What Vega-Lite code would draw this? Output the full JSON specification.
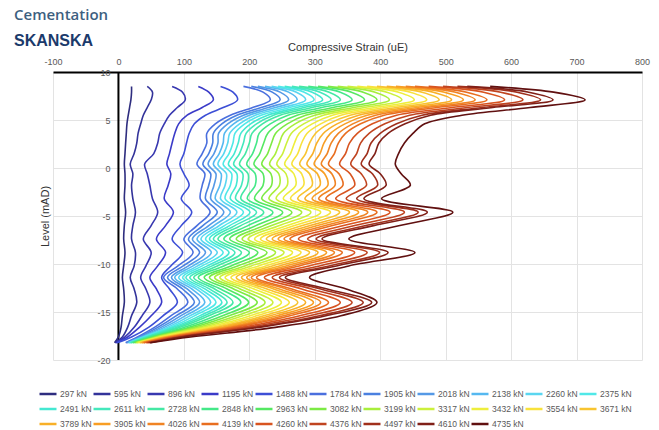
{
"$schema":"https://vega.github.io/schema/vega-lite/v6.json",
"width":589,"height":288,
"autosize":{"type":"none"},
"padding":{"left":53,"top":72,"right":17,"bottom":70},
"background":"white",
"config":{"font":"Liberation Sans","view":{"stroke":null}},
"title":{"text":"Cementation","subtitle":"SKANSKA","anchor":"start","frame":"group","dx":-39,"offset":-8,"fontSize":15,"font":"Open Sans","fontWeight":600,"color":"#3d5f80","subtitleFontSize":16,"subtitleFont":"Liberation Sans","subtitleFontWeight":"bold","subtitleColor":"#1b3a6b","subtitlePadding":10},
"layer":[
{"data":{"values":[{"x":0}]},"mark":{"type":"rule","color":"black","strokeWidth":2},"encoding":{"x":{"field":"x","type":"quantitative"}}},
{"data":{"values":[
{"k":297,"y":8.5,"x":20},{"k":297,"y":7.9,"x":20},{"k":297,"y":7.1,"x":19},{"k":297,"y":6.3,"x":17},{"k":297,"y":5.5,"x":15},{"k":297,"y":4.6,"x":13},{"k":297,"y":3.6,"x":12},{"k":297,"y":2.6,"x":11},{"k":297,"y":1.5,"x":10},{"k":297,"y":0.4,"x":9},{"k":297,"y":-0.6,"x":10},{"k":297,"y":-1.8,"x":10},{"k":297,"y":-3.2,"x":9},{"k":297,"y":-4.6,"x":11},{"k":297,"y":-6,"x":9},{"k":297,"y":-7.4,"x":8},{"k":297,"y":-8.8,"x":10},{"k":297,"y":-10.2,"x":8},{"k":297,"y":-11.4,"x":6},{"k":297,"y":-12.6,"x":8},{"k":297,"y":-14,"x":9},{"k":297,"y":-15.4,"x":6},{"k":297,"y":-16.6,"x":4},{"k":297,"y":-17.6,"x":0},{"k":297,"y":-18.2,"x":-6},
{"k":595,"y":8.5,"x":44},{"k":595,"y":7.9,"x":52},{"k":595,"y":7.1,"x":50},{"k":595,"y":6.3,"x":44},{"k":595,"y":5.5,"x":38},{"k":595,"y":4.6,"x":34},{"k":595,"y":3.6,"x":30},{"k":595,"y":2.6,"x":28},{"k":595,"y":1.5,"x":24},{"k":595,"y":0.4,"x":18},{"k":595,"y":-0.6,"x":22},{"k":595,"y":-1.8,"x":20},{"k":595,"y":-3.2,"x":22},{"k":595,"y":-4.6,"x":26},{"k":595,"y":-6,"x":22},{"k":595,"y":-7.4,"x":20},{"k":595,"y":-8.8,"x":26},{"k":595,"y":-10.2,"x":24},{"k":595,"y":-11.4,"x":18},{"k":595,"y":-12.6,"x":24},{"k":595,"y":-14,"x":28},{"k":595,"y":-15.4,"x":20},{"k":595,"y":-16.6,"x":14},{"k":595,"y":-17.6,"x":6},{"k":595,"y":-18.2,"x":-5},
{"k":896,"y":8.5,"x":82},{"k":896,"y":7.9,"x":98},{"k":896,"y":7.1,"x":102},{"k":896,"y":6.3,"x":90},{"k":896,"y":5.5,"x":78},{"k":896,"y":4.6,"x":70},{"k":896,"y":3.6,"x":63},{"k":896,"y":2.6,"x":60},{"k":896,"y":1.5,"x":54},{"k":896,"y":0.4,"x":40},{"k":896,"y":-0.6,"x":44},{"k":896,"y":-1.8,"x":48},{"k":896,"y":-3.2,"x":52},{"k":896,"y":-4.6,"x":60},{"k":896,"y":-6,"x":50},{"k":896,"y":-7.4,"x":38},{"k":896,"y":-8.8,"x":50},{"k":896,"y":-10.2,"x":42},{"k":896,"y":-11.4,"x":34},{"k":896,"y":-12.6,"x":42},{"k":896,"y":-14,"x":48},{"k":896,"y":-15.4,"x":36},{"k":896,"y":-16.6,"x":24},{"k":896,"y":-17.6,"x":10},{"k":896,"y":-18.2,"x":-4},
{"k":1195,"y":8.5,"x":122},{"k":1195,"y":7.9,"x":138},{"k":1195,"y":7.1,"x":145},{"k":1195,"y":6.3,"x":128},{"k":1195,"y":5.5,"x":105},{"k":1195,"y":4.6,"x":92},{"k":1195,"y":3.6,"x":86},{"k":1195,"y":2.6,"x":82},{"k":1195,"y":1.5,"x":78},{"k":1195,"y":0.4,"x":74},{"k":1195,"y":-0.6,"x":80},{"k":1195,"y":-1.8,"x":76},{"k":1195,"y":-3.2,"x":70},{"k":1195,"y":-4.6,"x":84},{"k":1195,"y":-6,"x":72},{"k":1195,"y":-7.4,"x":58},{"k":1195,"y":-8.8,"x":72},{"k":1195,"y":-10.2,"x":60},{"k":1195,"y":-11.4,"x":48},{"k":1195,"y":-12.6,"x":58},{"k":1195,"y":-14,"x":66},{"k":1195,"y":-15.4,"x":50},{"k":1195,"y":-16.6,"x":32},{"k":1195,"y":-17.6,"x":14},{"k":1195,"y":-18.2,"x":-3},
{"k":1488,"y":8.5,"x":156},{"k":1488,"y":7.9,"x":175},{"k":1488,"y":7.1,"x":182},{"k":1488,"y":6.3,"x":160},{"k":1488,"y":5.5,"x":133},{"k":1488,"y":4.6,"x":116},{"k":1488,"y":3.6,"x":108},{"k":1488,"y":2.6,"x":104},{"k":1488,"y":1.5,"x":100},{"k":1488,"y":0.4,"x":94},{"k":1488,"y":-0.6,"x":100},{"k":1488,"y":-1.8,"x":108},{"k":1488,"y":-3.2,"x":96},{"k":1488,"y":-4.6,"x":112},{"k":1488,"y":-6,"x":96},{"k":1488,"y":-7.4,"x":82},{"k":1488,"y":-8.8,"x":98},{"k":1488,"y":-10.2,"x":80},{"k":1488,"y":-11.4,"x":66},{"k":1488,"y":-12.6,"x":78},{"k":1488,"y":-14,"x":90},{"k":1488,"y":-15.4,"x":68},{"k":1488,"y":-16.6,"x":46},{"k":1488,"y":-17.6,"x":20},{"k":1488,"y":-18.2,"x":-2},
{"k":1784,"y":8.5,"x":191},{"k":1784,"y":7.9,"x":221},{"k":1784,"y":7.1,"x":232},{"k":1784,"y":6.3,"x":205},{"k":1784,"y":5.5,"x":171},{"k":1784,"y":4.6,"x":148},{"k":1784,"y":3.6,"x":135},{"k":1784,"y":2.6,"x":135},{"k":1784,"y":1.5,"x":128},{"k":1784,"y":0.4,"x":120},{"k":1784,"y":-0.6,"x":132},{"k":1784,"y":-1.8,"x":128},{"k":1784,"y":-3.2,"x":125},{"k":1784,"y":-4.6,"x":140},{"k":1784,"y":-6,"x":120},{"k":1784,"y":-7.4,"x":100},{"k":1784,"y":-8.8,"x":114},{"k":1784,"y":-10.2,"x":91},{"k":1784,"y":-11.4,"x":69},{"k":1784,"y":-12.6,"x":90},{"k":1784,"y":-14,"x":106},{"k":1784,"y":-15.4,"x":80},{"k":1784,"y":-16.6,"x":55},{"k":1784,"y":-17.6,"x":29},{"k":1784,"y":-18.2,"x":11},
{"k":1905,"y":8.5,"x":203},{"k":1905,"y":7.9,"x":235},{"k":1905,"y":7.1,"x":247},{"k":1905,"y":6.3,"x":218},{"k":1905,"y":5.5,"x":181},{"k":1905,"y":4.6,"x":158},{"k":1905,"y":3.6,"x":145},{"k":1905,"y":2.6,"x":144},{"k":1905,"y":1.5,"x":138},{"k":1905,"y":0.4,"x":129},{"k":1905,"y":-0.6,"x":141},{"k":1905,"y":-1.8,"x":138},{"k":1905,"y":-3.2,"x":133},{"k":1905,"y":-4.6,"x":151},{"k":1905,"y":-6,"x":129},{"k":1905,"y":-7.4,"x":107},{"k":1905,"y":-8.8,"x":124},{"k":1905,"y":-10.2,"x":99},{"k":1905,"y":-11.4,"x":75},{"k":1905,"y":-12.6,"x":98},{"k":1905,"y":-14,"x":116},{"k":1905,"y":-15.4,"x":88},{"k":1905,"y":-16.6,"x":60},{"k":1905,"y":-17.6,"x":32},{"k":1905,"y":-18.2,"x":12},
{"k":2018,"y":8.5,"x":213},{"k":2018,"y":7.9,"x":247},{"k":2018,"y":7.1,"x":260},{"k":2018,"y":6.3,"x":229},{"k":2018,"y":5.5,"x":191},{"k":2018,"y":4.6,"x":167},{"k":2018,"y":3.6,"x":153},{"k":2018,"y":2.6,"x":152},{"k":2018,"y":1.5,"x":146},{"k":2018,"y":0.4,"x":137},{"k":2018,"y":-0.6,"x":149},{"k":2018,"y":-1.8,"x":146},{"k":2018,"y":-3.2,"x":141},{"k":2018,"y":-4.6,"x":161},{"k":2018,"y":-6,"x":138},{"k":2018,"y":-7.4,"x":113},{"k":2018,"y":-8.8,"x":133},{"k":2018,"y":-10.2,"x":107},{"k":2018,"y":-11.4,"x":81},{"k":2018,"y":-12.6,"x":105},{"k":2018,"y":-14,"x":124},{"k":2018,"y":-15.4,"x":95},{"k":2018,"y":-16.6,"x":65},{"k":2018,"y":-17.6,"x":34},{"k":2018,"y":-18.2,"x":13},
{"k":2138,"y":8.5,"x":224},{"k":2138,"y":7.9,"x":260},{"k":2138,"y":7.1,"x":273},{"k":2138,"y":6.3,"x":240},{"k":2138,"y":5.5,"x":200},{"k":2138,"y":4.6,"x":176},{"k":2138,"y":3.6,"x":162},{"k":2138,"y":2.6,"x":160},{"k":2138,"y":1.5,"x":154},{"k":2138,"y":0.4,"x":145},{"k":2138,"y":-0.6,"x":157},{"k":2138,"y":-1.8,"x":155},{"k":2138,"y":-3.2,"x":148},{"k":2138,"y":-4.6,"x":171},{"k":2138,"y":-6,"x":146},{"k":2138,"y":-7.4,"x":120},{"k":2138,"y":-8.8,"x":142},{"k":2138,"y":-10.2,"x":114},{"k":2138,"y":-11.4,"x":86},{"k":2138,"y":-12.6,"x":112},{"k":2138,"y":-14,"x":132},{"k":2138,"y":-15.4,"x":102},{"k":2138,"y":-16.6,"x":70},{"k":2138,"y":-17.6,"x":36},{"k":2138,"y":-18.2,"x":15},
{"k":2260,"y":8.5,"x":234},{"k":2260,"y":7.9,"x":272},{"k":2260,"y":7.1,"x":286},{"k":2260,"y":6.3,"x":251},{"k":2260,"y":5.5,"x":209},{"k":2260,"y":4.6,"x":185},{"k":2260,"y":3.6,"x":170},{"k":2260,"y":2.6,"x":167},{"k":2260,"y":1.5,"x":161},{"k":2260,"y":0.4,"x":152},{"k":2260,"y":-0.6,"x":165},{"k":2260,"y":-1.8,"x":163},{"k":2260,"y":-3.2,"x":156},{"k":2260,"y":-4.6,"x":181},{"k":2260,"y":-6,"x":154},{"k":2260,"y":-7.4,"x":126},{"k":2260,"y":-8.8,"x":151},{"k":2260,"y":-10.2,"x":121},{"k":2260,"y":-11.4,"x":92},{"k":2260,"y":-12.6,"x":119},{"k":2260,"y":-14,"x":141},{"k":2260,"y":-15.4,"x":109},{"k":2260,"y":-16.6,"x":75},{"k":2260,"y":-17.6,"x":38},{"k":2260,"y":-18.2,"x":16},
{"k":2375,"y":8.5,"x":244},{"k":2375,"y":7.9,"x":284},{"k":2375,"y":7.1,"x":299},{"k":2375,"y":6.3,"x":262},{"k":2375,"y":5.5,"x":218},{"k":2375,"y":4.6,"x":193},{"k":2375,"y":3.6,"x":178},{"k":2375,"y":2.6,"x":175},{"k":2375,"y":1.5,"x":169},{"k":2375,"y":0.4,"x":160},{"k":2375,"y":-0.6,"x":173},{"k":2375,"y":-1.8,"x":171},{"k":2375,"y":-3.2,"x":163},{"k":2375,"y":-4.6,"x":191},{"k":2375,"y":-6,"x":162},{"k":2375,"y":-7.4,"x":133},{"k":2375,"y":-8.8,"x":160},{"k":2375,"y":-10.2,"x":128},{"k":2375,"y":-11.4,"x":98},{"k":2375,"y":-12.6,"x":125},{"k":2375,"y":-14,"x":149},{"k":2375,"y":-15.4,"x":116},{"k":2375,"y":-16.6,"x":80},{"k":2375,"y":-17.6,"x":40},{"k":2375,"y":-18.2,"x":17},
{"k":2491,"y":8.5,"x":254},{"k":2491,"y":7.9,"x":296},{"k":2491,"y":7.1,"x":312},{"k":2491,"y":6.3,"x":273},{"k":2491,"y":5.5,"x":228},{"k":2491,"y":4.6,"x":202},{"k":2491,"y":3.6,"x":187},{"k":2491,"y":2.6,"x":183},{"k":2491,"y":1.5,"x":177},{"k":2491,"y":0.4,"x":168},{"k":2491,"y":-0.6,"x":181},{"k":2491,"y":-1.8,"x":180},{"k":2491,"y":-3.2,"x":171},{"k":2491,"y":-4.6,"x":201},{"k":2491,"y":-6,"x":170},{"k":2491,"y":-7.4,"x":139},{"k":2491,"y":-8.8,"x":169},{"k":2491,"y":-10.2,"x":136},{"k":2491,"y":-11.4,"x":103},{"k":2491,"y":-12.6,"x":132},{"k":2491,"y":-14,"x":158},{"k":2491,"y":-15.4,"x":124},{"k":2491,"y":-16.6,"x":84},{"k":2491,"y":-17.6,"x":42},{"k":2491,"y":-18.2,"x":18},
{"k":2611,"y":8.5,"x":265},{"k":2611,"y":7.9,"x":308},{"k":2611,"y":7.1,"x":325},{"k":2611,"y":6.3,"x":284},{"k":2611,"y":5.5,"x":237},{"k":2611,"y":4.6,"x":211},{"k":2611,"y":3.6,"x":195},{"k":2611,"y":2.6,"x":191},{"k":2611,"y":1.5,"x":185},{"k":2611,"y":0.4,"x":176},{"k":2611,"y":-0.6,"x":190},{"k":2611,"y":-1.8,"x":188},{"k":2611,"y":-3.2,"x":179},{"k":2611,"y":-4.6,"x":211},{"k":2611,"y":-6,"x":178},{"k":2611,"y":-7.4,"x":145},{"k":2611,"y":-8.8,"x":178},{"k":2611,"y":-10.2,"x":143},{"k":2611,"y":-11.4,"x":109},{"k":2611,"y":-12.6,"x":139},{"k":2611,"y":-14,"x":166},{"k":2611,"y":-15.4,"x":131},{"k":2611,"y":-16.6,"x":89},{"k":2611,"y":-17.6,"x":44},{"k":2611,"y":-18.2,"x":19},
{"k":2728,"y":8.5,"x":276},{"k":2728,"y":7.9,"x":322},{"k":2728,"y":7.1,"x":339},{"k":2728,"y":6.3,"x":296},{"k":2728,"y":5.5,"x":247},{"k":2728,"y":4.6,"x":220},{"k":2728,"y":3.6,"x":204},{"k":2728,"y":2.6,"x":200},{"k":2728,"y":1.5,"x":194},{"k":2728,"y":0.4,"x":185},{"k":2728,"y":-0.6,"x":198},{"k":2728,"y":-1.8,"x":197},{"k":2728,"y":-3.2,"x":187},{"k":2728,"y":-4.6,"x":222},{"k":2728,"y":-6,"x":187},{"k":2728,"y":-7.4,"x":152},{"k":2728,"y":-8.8,"x":188},{"k":2728,"y":-10.2,"x":151},{"k":2728,"y":-11.4,"x":115},{"k":2728,"y":-12.6,"x":147},{"k":2728,"y":-14,"x":175},{"k":2728,"y":-15.4,"x":138},{"k":2728,"y":-16.6,"x":94},{"k":2728,"y":-17.6,"x":46},{"k":2728,"y":-18.2,"x":20},
{"k":2848,"y":8.5,"x":290},{"k":2848,"y":7.9,"x":339},{"k":2848,"y":7.1,"x":357},{"k":2848,"y":6.3,"x":311},{"k":2848,"y":5.5,"x":259},{"k":2848,"y":4.6,"x":232},{"k":2848,"y":3.6,"x":215},{"k":2848,"y":2.6,"x":211},{"k":2848,"y":1.5,"x":205},{"k":2848,"y":0.4,"x":196},{"k":2848,"y":-0.6,"x":209},{"k":2848,"y":-1.8,"x":209},{"k":2848,"y":-3.2,"x":197},{"k":2848,"y":-4.6,"x":236},{"k":2848,"y":-6,"x":198},{"k":2848,"y":-7.4,"x":161},{"k":2848,"y":-8.8,"x":200},{"k":2848,"y":-10.2,"x":161},{"k":2848,"y":-11.4,"x":122},{"k":2848,"y":-12.6,"x":156},{"k":2848,"y":-14,"x":187},{"k":2848,"y":-15.4,"x":148},{"k":2848,"y":-16.6,"x":101},{"k":2848,"y":-17.6,"x":49},{"k":2848,"y":-18.2,"x":22},
{"k":2963,"y":8.5,"x":305},{"k":2963,"y":7.9,"x":356},{"k":2963,"y":7.1,"x":376},{"k":2963,"y":6.3,"x":328},{"k":2963,"y":5.5,"x":273},{"k":2963,"y":4.6,"x":245},{"k":2963,"y":3.6,"x":228},{"k":2963,"y":2.6,"x":222},{"k":2963,"y":1.5,"x":216},{"k":2963,"y":0.4,"x":207},{"k":2963,"y":-0.6,"x":221},{"k":2963,"y":-1.8,"x":221},{"k":2963,"y":-3.2,"x":208},{"k":2963,"y":-4.6,"x":251},{"k":2963,"y":-6,"x":210},{"k":2963,"y":-7.4,"x":170},{"k":2963,"y":-8.8,"x":213},{"k":2963,"y":-10.2,"x":172},{"k":2963,"y":-11.4,"x":131},{"k":2963,"y":-12.6,"x":166},{"k":2963,"y":-14,"x":199},{"k":2963,"y":-15.4,"x":159},{"k":2963,"y":-16.6,"x":108},{"k":2963,"y":-17.6,"x":52},{"k":2963,"y":-18.2,"x":23},
{"k":3082,"y":8.5,"x":320},{"k":3082,"y":7.9,"x":374},{"k":3082,"y":7.1,"x":395},{"k":3082,"y":6.3,"x":344},{"k":3082,"y":5.5,"x":286},{"k":3082,"y":4.6,"x":258},{"k":3082,"y":3.6,"x":240},{"k":3082,"y":2.6,"x":234},{"k":3082,"y":1.5,"x":228},{"k":3082,"y":0.4,"x":219},{"k":3082,"y":-0.6,"x":233},{"k":3082,"y":-1.8,"x":234},{"k":3082,"y":-3.2,"x":219},{"k":3082,"y":-4.6,"x":265},{"k":3082,"y":-6,"x":222},{"k":3082,"y":-7.4,"x":180},{"k":3082,"y":-8.8,"x":227},{"k":3082,"y":-10.2,"x":182},{"k":3082,"y":-11.4,"x":139},{"k":3082,"y":-12.6,"x":176},{"k":3082,"y":-14,"x":212},{"k":3082,"y":-15.4,"x":169},{"k":3082,"y":-16.6,"x":115},{"k":3082,"y":-17.6,"x":55},{"k":3082,"y":-18.2,"x":25},
{"k":3199,"y":8.5,"x":335},{"k":3199,"y":7.9,"x":392},{"k":3199,"y":7.1,"x":414},{"k":3199,"y":6.3,"x":360},{"k":3199,"y":5.5,"x":300},{"k":3199,"y":4.6,"x":270},{"k":3199,"y":3.6,"x":252},{"k":3199,"y":2.6,"x":246},{"k":3199,"y":1.5,"x":240},{"k":3199,"y":0.4,"x":231},{"k":3199,"y":-0.6,"x":245},{"k":3199,"y":-1.8,"x":246},{"k":3199,"y":-3.2,"x":230},{"k":3199,"y":-4.6,"x":280},{"k":3199,"y":-6,"x":234},{"k":3199,"y":-7.4,"x":189},{"k":3199,"y":-8.8,"x":240},{"k":3199,"y":-10.2,"x":193},{"k":3199,"y":-11.4,"x":147},{"k":3199,"y":-12.6,"x":186},{"k":3199,"y":-14,"x":224},{"k":3199,"y":-15.4,"x":180},{"k":3199,"y":-16.6,"x":122},{"k":3199,"y":-17.6,"x":58},{"k":3199,"y":-18.2,"x":27},
{"k":3317,"y":8.5,"x":350},{"k":3317,"y":7.9,"x":410},{"k":3317,"y":7.1,"x":433},{"k":3317,"y":6.3,"x":376},{"k":3317,"y":5.5,"x":313},{"k":3317,"y":4.6,"x":283},{"k":3317,"y":3.6,"x":264},{"k":3317,"y":2.6,"x":257},{"k":3317,"y":1.5,"x":251},{"k":3317,"y":0.4,"x":242},{"k":3317,"y":-0.6,"x":256},{"k":3317,"y":-1.8,"x":258},{"k":3317,"y":-3.2,"x":241},{"k":3317,"y":-4.6,"x":294},{"k":3317,"y":-6,"x":246},{"k":3317,"y":-7.4,"x":198},{"k":3317,"y":-8.8,"x":253},{"k":3317,"y":-10.2,"x":203},{"k":3317,"y":-11.4,"x":155},{"k":3317,"y":-12.6,"x":196},{"k":3317,"y":-14,"x":236},{"k":3317,"y":-15.4,"x":190},{"k":3317,"y":-16.6,"x":129},{"k":3317,"y":-17.6,"x":61},{"k":3317,"y":-18.2,"x":28},
{"k":3432,"y":8.5,"x":365},{"k":3432,"y":7.9,"x":428},{"k":3432,"y":7.1,"x":452},{"k":3432,"y":6.3,"x":392},{"k":3432,"y":5.5,"x":327},{"k":3432,"y":4.6,"x":296},{"k":3432,"y":3.6,"x":276},{"k":3432,"y":2.6,"x":269},{"k":3432,"y":1.5,"x":263},{"k":3432,"y":0.4,"x":254},{"k":3432,"y":-0.6,"x":268},{"k":3432,"y":-1.8,"x":271},{"k":3432,"y":-3.2,"x":252},{"k":3432,"y":-4.6,"x":309},{"k":3432,"y":-6,"x":258},{"k":3432,"y":-7.4,"x":208},{"k":3432,"y":-8.8,"x":266},{"k":3432,"y":-10.2,"x":214},{"k":3432,"y":-11.4,"x":163},{"k":3432,"y":-12.6,"x":207},{"k":3432,"y":-14,"x":249},{"k":3432,"y":-15.4,"x":201},{"k":3432,"y":-16.6,"x":136},{"k":3432,"y":-17.6,"x":64},{"k":3432,"y":-18.2,"x":30},
{"k":3554,"y":8.5,"x":380},{"k":3554,"y":7.9,"x":446},{"k":3554,"y":7.1,"x":471},{"k":3554,"y":6.3,"x":408},{"k":3554,"y":5.5,"x":340},{"k":3554,"y":4.6,"x":309},{"k":3554,"y":3.6,"x":288},{"k":3554,"y":2.6,"x":280},{"k":3554,"y":1.5,"x":274},{"k":3554,"y":0.4,"x":265},{"k":3554,"y":-0.6,"x":280},{"k":3554,"y":-1.8,"x":283},{"k":3554,"y":-3.2,"x":263},{"k":3554,"y":-4.6,"x":324},{"k":3554,"y":-6,"x":269},{"k":3554,"y":-7.4,"x":217},{"k":3554,"y":-8.8,"x":279},{"k":3554,"y":-10.2,"x":225},{"k":3554,"y":-11.4,"x":172},{"k":3554,"y":-12.6,"x":217},{"k":3554,"y":-14,"x":261},{"k":3554,"y":-15.4,"x":211},{"k":3554,"y":-16.6,"x":143},{"k":3554,"y":-17.6,"x":67},{"k":3554,"y":-18.2,"x":32},
{"k":3671,"y":8.5,"x":395},{"k":3671,"y":7.9,"x":464},{"k":3671,"y":7.1,"x":490},{"k":3671,"y":6.3,"x":425},{"k":3671,"y":5.5,"x":354},{"k":3671,"y":4.6,"x":321},{"k":3671,"y":3.6,"x":301},{"k":3671,"y":2.6,"x":292},{"k":3671,"y":1.5,"x":286},{"k":3671,"y":0.4,"x":277},{"k":3671,"y":-0.6,"x":292},{"k":3671,"y":-1.8,"x":296},{"k":3671,"y":-3.2,"x":274},{"k":3671,"y":-4.6,"x":338},{"k":3671,"y":-6,"x":281},{"k":3671,"y":-7.4,"x":226},{"k":3671,"y":-8.8,"x":292},{"k":3671,"y":-10.2,"x":235},{"k":3671,"y":-11.4,"x":180},{"k":3671,"y":-12.6,"x":227},{"k":3671,"y":-14,"x":274},{"k":3671,"y":-15.4,"x":222},{"k":3671,"y":-16.6,"x":150},{"k":3671,"y":-17.6,"x":70},{"k":3671,"y":-18.2,"x":33},
{"k":3789,"y":8.5,"x":410},{"k":3789,"y":7.9,"x":481},{"k":3789,"y":7.1,"x":509},{"k":3789,"y":6.3,"x":441},{"k":3789,"y":5.5,"x":367},{"k":3789,"y":4.6,"x":334},{"k":3789,"y":3.6,"x":313},{"k":3789,"y":2.6,"x":303},{"k":3789,"y":1.5,"x":297},{"k":3789,"y":0.4,"x":288},{"k":3789,"y":-0.6,"x":304},{"k":3789,"y":-1.8,"x":308},{"k":3789,"y":-3.2,"x":285},{"k":3789,"y":-4.6,"x":353},{"k":3789,"y":-6,"x":293},{"k":3789,"y":-7.4,"x":235},{"k":3789,"y":-8.8,"x":305},{"k":3789,"y":-10.2,"x":246},{"k":3789,"y":-11.4,"x":188},{"k":3789,"y":-12.6,"x":237},{"k":3789,"y":-14,"x":286},{"k":3789,"y":-15.4,"x":232},{"k":3789,"y":-16.6,"x":157},{"k":3789,"y":-17.6,"x":73},{"k":3789,"y":-18.2,"x":35},
{"k":3905,"y":8.5,"x":424},{"k":3905,"y":7.9,"x":498},{"k":3905,"y":7.1,"x":527},{"k":3905,"y":6.3,"x":456},{"k":3905,"y":5.5,"x":380},{"k":3905,"y":4.6,"x":346},{"k":3905,"y":3.6,"x":324},{"k":3905,"y":2.6,"x":314},{"k":3905,"y":1.5,"x":308},{"k":3905,"y":0.4,"x":299},{"k":3905,"y":-0.6,"x":315},{"k":3905,"y":-1.8,"x":320},{"k":3905,"y":-3.2,"x":296},{"k":3905,"y":-4.6,"x":367},{"k":3905,"y":-6,"x":304},{"k":3905,"y":-7.4,"x":244},{"k":3905,"y":-8.8,"x":318},{"k":3905,"y":-10.2,"x":256},{"k":3905,"y":-11.4,"x":196},{"k":3905,"y":-12.6,"x":246},{"k":3905,"y":-14,"x":298},{"k":3905,"y":-15.4,"x":242},{"k":3905,"y":-16.6,"x":164},{"k":3905,"y":-17.6,"x":76},{"k":3905,"y":-18.2,"x":36},
{"k":4026,"y":8.5,"x":439},{"k":4026,"y":7.9,"x":515},{"k":4026,"y":7.1,"x":545},{"k":4026,"y":6.3,"x":471},{"k":4026,"y":5.5,"x":393},{"k":4026,"y":4.6,"x":358},{"k":4026,"y":3.6,"x":336},{"k":4026,"y":2.6,"x":325},{"k":4026,"y":1.5,"x":319},{"k":4026,"y":0.4,"x":310},{"k":4026,"y":-0.6,"x":326},{"k":4026,"y":-1.8,"x":331},{"k":4026,"y":-3.2,"x":306},{"k":4026,"y":-4.6,"x":381},{"k":4026,"y":-6,"x":316},{"k":4026,"y":-7.4,"x":253},{"k":4026,"y":-8.8,"x":330},{"k":4026,"y":-10.2,"x":266},{"k":4026,"y":-11.4,"x":203},{"k":4026,"y":-12.6,"x":256},{"k":4026,"y":-14,"x":309},{"k":4026,"y":-15.4,"x":252},{"k":4026,"y":-16.6,"x":171},{"k":4026,"y":-17.6,"x":79},{"k":4026,"y":-18.2,"x":38},
{"k":4139,"y":8.5,"x":453},{"k":4139,"y":7.9,"x":532},{"k":4139,"y":7.1,"x":563},{"k":4139,"y":6.3,"x":487},{"k":4139,"y":5.5,"x":406},{"k":4139,"y":4.6,"x":370},{"k":4139,"y":3.6,"x":347},{"k":4139,"y":2.6,"x":336},{"k":4139,"y":1.5,"x":330},{"k":4139,"y":0.4,"x":321},{"k":4139,"y":-0.6,"x":337},{"k":4139,"y":-1.8,"x":343},{"k":4139,"y":-3.2,"x":317},{"k":4139,"y":-4.6,"x":395},{"k":4139,"y":-6,"x":327},{"k":4139,"y":-7.4,"x":262},{"k":4139,"y":-8.8,"x":342},{"k":4139,"y":-10.2,"x":276},{"k":4139,"y":-11.4,"x":211},{"k":4139,"y":-12.6,"x":265},{"k":4139,"y":-14,"x":321},{"k":4139,"y":-15.4,"x":262},{"k":4139,"y":-16.6,"x":177},{"k":4139,"y":-17.6,"x":82},{"k":4139,"y":-18.2,"x":39},
{"k":4260,"y":8.5,"x":474},{"k":4260,"y":7.9,"x":558},{"k":4260,"y":7.1,"x":590},{"k":4260,"y":6.3,"x":510},{"k":4260,"y":5.5,"x":425},{"k":4260,"y":4.6,"x":388},{"k":4260,"y":3.6,"x":365},{"k":4260,"y":2.6,"x":353},{"k":4260,"y":1.5,"x":347},{"k":4260,"y":0.4,"x":338},{"k":4260,"y":-0.6,"x":354},{"k":4260,"y":-1.8,"x":361},{"k":4260,"y":-3.2,"x":332},{"k":4260,"y":-4.6,"x":415},{"k":4260,"y":-6,"x":344},{"k":4260,"y":-7.4,"x":275},{"k":4260,"y":-8.8,"x":361},{"k":4260,"y":-10.2,"x":291},{"k":4260,"y":-11.4,"x":223},{"k":4260,"y":-12.6,"x":280},{"k":4260,"y":-14,"x":339},{"k":4260,"y":-15.4,"x":277},{"k":4260,"y":-16.6,"x":187},{"k":4260,"y":-17.6,"x":86},{"k":4260,"y":-18.2,"x":42},
{"k":4376,"y":8.5,"x":496},{"k":4376,"y":7.9,"x":584},{"k":4376,"y":7.1,"x":618},{"k":4376,"y":6.3,"x":533},{"k":4376,"y":5.5,"x":445},{"k":4376,"y":4.6,"x":407},{"k":4376,"y":3.6,"x":383},{"k":4376,"y":2.6,"x":370},{"k":4376,"y":1.5,"x":364},{"k":4376,"y":0.4,"x":355},{"k":4376,"y":-0.6,"x":371},{"k":4376,"y":-1.8,"x":379},{"k":4376,"y":-3.2,"x":348},{"k":4376,"y":-4.6,"x":437},{"k":4376,"y":-6,"x":361},{"k":4376,"y":-7.4,"x":289},{"k":4376,"y":-8.8,"x":380},{"k":4376,"y":-10.2,"x":307},{"k":4376,"y":-11.4,"x":235},{"k":4376,"y":-12.6,"x":295},{"k":4376,"y":-14,"x":357},{"k":4376,"y":-15.4,"x":292},{"k":4376,"y":-16.6,"x":198},{"k":4376,"y":-17.6,"x":91},{"k":4376,"y":-18.2,"x":44},
{"k":4497,"y":8.5,"x":518},{"k":4497,"y":7.9,"x":609},{"k":4497,"y":7.1,"x":645},{"k":4497,"y":6.3,"x":556},{"k":4497,"y":5.5,"x":464},{"k":4497,"y":4.6,"x":425},{"k":4497,"y":3.6,"x":400},{"k":4497,"y":2.6,"x":386},{"k":4497,"y":1.5,"x":380},{"k":4497,"y":0.4,"x":371},{"k":4497,"y":-0.6,"x":388},{"k":4497,"y":-1.8,"x":396},{"k":4497,"y":-3.2,"x":364},{"k":4497,"y":-4.6,"x":458},{"k":4497,"y":-6,"x":378},{"k":4497,"y":-7.4,"x":302},{"k":4497,"y":-8.8,"x":399},{"k":4497,"y":-10.2,"x":322},{"k":4497,"y":-11.4,"x":246},{"k":4497,"y":-12.6,"x":309},{"k":4497,"y":-14,"x":374},{"k":4497,"y":-15.4,"x":307},{"k":4497,"y":-16.6,"x":208},{"k":4497,"y":-17.6,"x":95},{"k":4497,"y":-18.2,"x":46},
{"k":4610,"y":8.5,"x":533},{"k":4610,"y":7.9,"x":627},{"k":4610,"y":7.1,"x":664},{"k":4610,"y":6.3,"x":572},{"k":4610,"y":5.5,"x":477},{"k":4610,"y":4.6,"x":438},{"k":4610,"y":3.6,"x":412},{"k":4610,"y":2.6,"x":398},{"k":4610,"y":1.5,"x":392},{"k":4610,"y":0.4,"x":383},{"k":4610,"y":-0.6,"x":400},{"k":4610,"y":-1.8,"x":409},{"k":4610,"y":-3.2,"x":375},{"k":4610,"y":-4.6,"x":472},{"k":4610,"y":-6,"x":390},{"k":4610,"y":-7.4,"x":311},{"k":4610,"y":-8.8,"x":412},{"k":4610,"y":-10.2,"x":333},{"k":4610,"y":-11.4,"x":255},{"k":4610,"y":-12.6,"x":319},{"k":4610,"y":-14,"x":387},{"k":4610,"y":-15.4,"x":317},{"k":4610,"y":-16.6,"x":215},{"k":4610,"y":-17.6,"x":98},{"k":4610,"y":-18.2,"x":48},
{"k":4735,"y":8.5,"x":568},{"k":4735,"y":7.9,"x":665},{"k":4735,"y":7.1,"x":713},{"k":4735,"y":6.3,"x":629},{"k":4735,"y":5.5,"x":525},{"k":4735,"y":4.6,"x":468},{"k":4735,"y":3.6,"x":450},{"k":4735,"y":2.6,"x":437},{"k":4735,"y":1.5,"x":428},{"k":4735,"y":0.4,"x":423},{"k":4735,"y":-0.6,"x":432},{"k":4735,"y":-1.8,"x":446},{"k":4735,"y":-3.2,"x":402},{"k":4735,"y":-4.6,"x":511},{"k":4735,"y":-6,"x":430},{"k":4735,"y":-7.4,"x":352},{"k":4735,"y":-8.8,"x":453},{"k":4735,"y":-10.2,"x":352},{"k":4735,"y":-11.4,"x":292},{"k":4735,"y":-12.6,"x":348},{"k":4735,"y":-14,"x":395},{"k":4735,"y":-15.4,"x":340},{"k":4735,"y":-16.6,"x":240},{"k":4735,"y":-17.6,"x":110},{"k":4735,"y":-18.2,"x":49}
]},
"mark":{"type":"line","interpolate":"catmull-rom","strokeWidth":1.6},
"encoding":{
"x":{"field":"x","type":"quantitative","scale":{"domain":[-100,800],"nice":false},"axis":{"orient":"top","title":"Compressive Strain (uE)","values":[-100,0,100,200,300,400,500,600,700,800],"labelExpr":"'' + datum.value","grid":true,"gridColor":"#e3e3e3","ticks":false,"domain":true,"domainColor":"#000000","domainWidth":2,"labelFontSize":9,"labelColor":"#595959","labelPadding":6,"labelFlush":false,"labelOverlap":false,"titleFontSize":11,"titleFontWeight":"normal","titleColor":"#333333","titlePadding":5}},
"y":{"field":"y","type":"quantitative","scale":{"domain":[-20,10],"nice":false},"axis":{"title":"Level (mAD)","values":[-20,-15,-10,-5,0,5,10],"labelExpr":"'' + datum.value","grid":true,"gridColor":"#e3e3e3","ticks":false,"domain":false,"labelPadding":-57,"labelAlign":"right","labelFontSize":9,"labelColor":"#595959","labelFlush":false,"titleFontSize":11,"titleFontWeight":"normal","titleColor":"#333333","titleX":-3,"titleY":144}},
"color":{"field":"k","type":"nominal","scale":{"domain":[297,595,896,1195,1488,1784,1905,2018,2138,2260,2375,2491,2611,2728,2848,2963,3082,3199,3317,3432,3554,3671,3789,3905,4026,4139,4260,4376,4497,4610,4735],"range":["#2e2d7f","#33339a","#3838b0","#3b3bc8","#3d4fd6","#4a6fde","#4a80e0","#5599e6","#55b8f0","#5ad6f0","#50e8e8","#44e8d2","#44e8bc","#44e8a4","#44e888","#55e862","#7cea44","#a8ee3c","#ccf03c","#eeee3c","#f8e23c","#f8c430","#f8b028","#f89e24","#f08424","#e86e20","#d85420","#c04420","#a0301c","#802018","#601010"]},"legend":{"title":null,"orient":"none","legendX":-15,"legendY":312,"direction":"horizontal","columns":11,"symbolLimit":0,"symbolType":"stroke","symbolSize":289,"symbolStrokeWidth":2.5,"labelFontSize":8.5,"labelColor":"#595959","labelOffset":2,"columnPadding":-8,"rowPadding":-5,"gridAlign":"each","padding":0,"labelExpr":"datum.label + ' kN'","labelLimit":40}},
"order":{"field":"y","sort":"descending"}
}}
]
}
